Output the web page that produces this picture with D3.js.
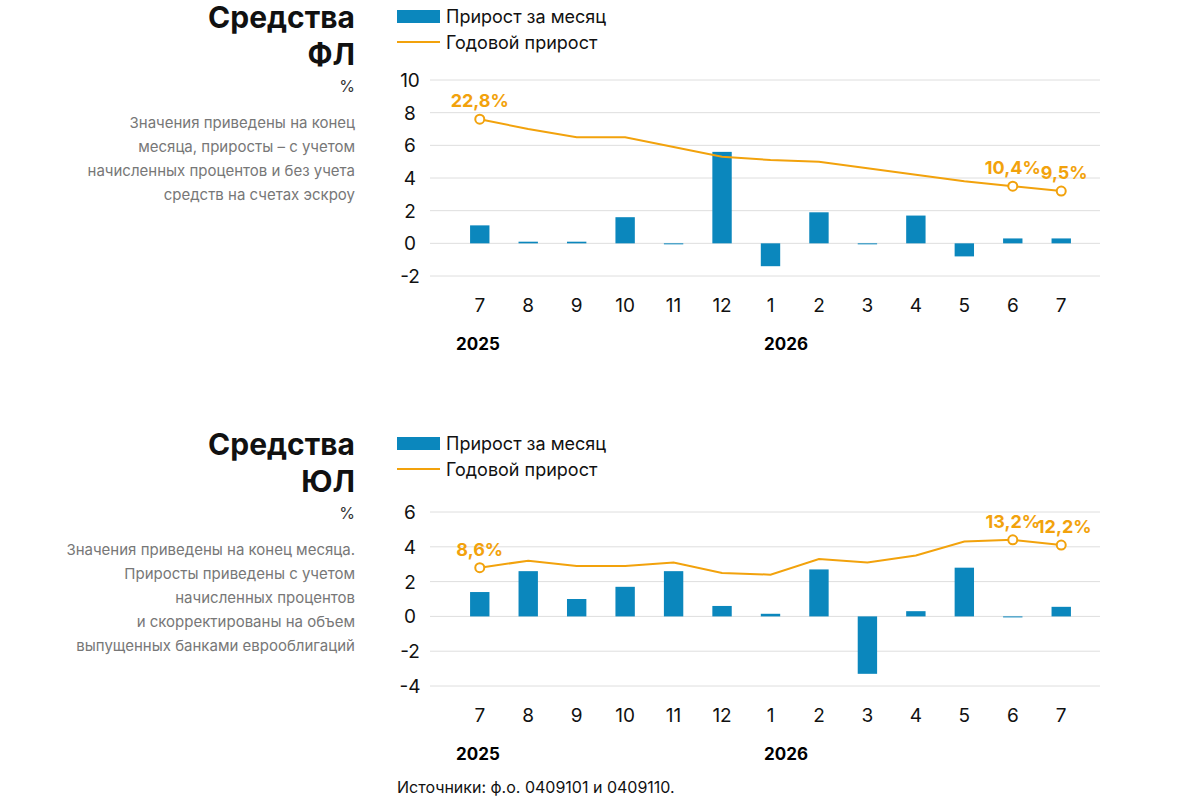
<!DOCTYPE html>
<html lang="ru">
<head>
<meta charset="utf-8">
<script src="https://cdn.jsdelivr.net/npm/d3@7"></script>
<style>
  body { margin: 0; background: #fff; font-family: "Inter", "Noto Sans", sans-serif; }
</style>
</head>
<body>
<svg id="chart" width="1200" height="800"></svg>
<script>
var months = ["7", "8", "9", "10", "11", "12", "1", "2", "3", "4", "5", "6", "7"];

// Средства ФЛ
var flMonthly = [1.1, 0.1, 0.1, 1.6, -0.05, 5.6, -1.4, 1.9, -0.05, 1.7, -0.8, 0.3, 0.3];
var flYearly = [7.6, 7.0, 6.5, 6.5, 5.9, 5.3, 5.1, 5.0, 4.6, 4.2, 3.8, 3.5, 3.2];
var flTicks = [-2, 0, 2, 4, 6, 8, 10];
var flLabels = [{i: 0, t: "22,8%"}, {i: 11, t: "10,4%"}, {i: 12, t: "9,5%"}];

// Средства ЮЛ
var ulMonthly = [1.4, 2.6, 1.0, 1.7, 2.6, 0.6, 0.15, 2.7, -3.3, 0.3, 2.8, -0.05, 0.55];
var ulYearly = [2.8, 3.2, 2.9, 2.9, 3.1, 2.5, 2.4, 3.3, 3.1, 3.5, 4.3, 4.4, 4.1];
var ulTicks = [-4, -2, 0, 2, 4, 6];
var ulLabels = [{i: 0, t: "8,6%"}, {i: 11, t: "13,2%"}, {i: 12, t: "12,2%"}];

var blue = "#0b87bd", orange = "#f2a20c";
var svg = d3.select("#chart");

function panel(top, title, note, monthly, yearly, ticks, labels, yTop, yBot) {
  var g = svg.append("g");
  // left text block
  g.append("text").attr("x", 355).attr("y", top + 28).attr("text-anchor", "end")
    .attr("font-size", 30).attr("font-weight", 700).attr("fill", "#111").text("Средства");
  g.append("text").attr("x", 355).attr("y", top + 65).attr("text-anchor", "end")
    .attr("font-size", 30).attr("font-weight", 700).attr("fill", "#111").text(title);
  g.append("text").attr("x", 355).attr("y", top + 92).attr("text-anchor", "end")
    .attr("font-size", 16).attr("fill", "#333").text("%");
  note.forEach(function(s, k) {
    g.append("text").attr("x", 355).attr("y", top + 128 + k * 24).attr("text-anchor", "end")
      .attr("font-size", 15).attr("fill", "#777").text(s);
  });

  // legend
  g.append("rect").attr("x", 397).attr("y", top + 10).attr("width", 43).attr("height", 13).attr("fill", blue);
  g.append("text").attr("x", 446).attr("y", top + 23).attr("font-size", 18).attr("fill", "#111").text("Прирост за месяц");
  g.append("line").attr("x1", 397).attr("x2", 440).attr("y1", top + 42).attr("y2", top + 42)
    .attr("stroke", orange).attr("stroke-width", 2);
  g.append("text").attr("x", 446).attr("y", top + 49).attr("font-size", 18).attr("fill", "#111").text("Годовой прирост");

  var x = d3.scaleBand().domain(d3.range(months.length)).range([441, 1100]).padding(0.6);
  var y = d3.scaleLinear().domain([ticks[0], ticks[ticks.length - 1]]).range([yBot, yTop]);

  g.selectAll(".grid").data(ticks).enter().append("line")
    .attr("x1", 430).attr("x2", 1100).attr("y1", function(d) { return y(d); }).attr("y2", function(d) { return y(d); })
    .attr("stroke", "#dedede");
  g.selectAll(".yl").data(ticks).enter().append("text")
    .attr("x", 410).attr("y", function(d) { return y(d) + 7; }).attr("text-anchor", "middle")
    .attr("font-size", 19).attr("fill", "#111").text(function(d) { return d; });

  g.selectAll(".bar").data(monthly).enter().append("rect")
    .attr("x", function(d, i) { return x(i); }).attr("width", x.bandwidth())
    .attr("y", function(d) { return y(Math.max(0, d)); })
    .attr("height", function(d) { return Math.max(1, Math.abs(y(d) - y(0))); })
    .attr("fill", blue);

  var cx = function(d, i) { return x(i) + x.bandwidth() / 2; };
  g.append("path").datum(yearly)
    .attr("d", d3.line().x(cx).y(function(d) { return y(d); }))
    .attr("fill", "none").attr("stroke", orange).attr("stroke-width", 2);

  labels.forEach(function(l) {
    g.append("circle").attr("cx", cx(null, l.i)).attr("cy", y(yearly[l.i])).attr("r", 4.5)
      .attr("fill", "#fff").attr("stroke", orange).attr("stroke-width", 2);
    g.append("text").attr("x", cx(null, l.i) + (l.i === 12 ? 3 : 0)).attr("y", y(yearly[l.i]) - 12)
      .attr("text-anchor", "middle").attr("font-size", 18).attr("font-weight", 700)
      .attr("fill", orange).text(l.t);
  });

  var xl = yBot + 36;
  g.selectAll(".xl").data(months).enter().append("text")
    .attr("x", cx).attr("y", xl).attr("text-anchor", "middle")
    .attr("font-size", 19).attr("fill", "#111").text(function(d) { return d; });
  g.append("text").attr("x", 456).attr("y", xl + 38).attr("font-size", 17).attr("font-weight", 700).text("2025");
  g.append("text").attr("x", 764).attr("y", xl + 38).attr("font-size", 17).attr("font-weight", 700).text("2026");
}

panel(0, "ФЛ", ["Значения приведены на конец", "месяца, приросты – с учетом",
  "начисленных процентов и без учета", "средств на счетах эскроу"],
  flMonthly, flYearly, flTicks, flLabels, 80, 276);
panel(427, "ЮЛ", ["Значения приведены на конец месяца.", "Приросты приведены с учетом",
  "начисленных процентов", "и скорректированы на объем", "выпущенных банками еврооблигаций"],
  ulMonthly, ulYearly, ulTicks, ulLabels, 512, 686);

svg.append("text").attr("x", 397).attr("y", 793).attr("font-size", 16).attr("fill", "#111")
  .text("Источники: ф.о. 0409101 и 0409110.");
</script>
</body>
</html>
